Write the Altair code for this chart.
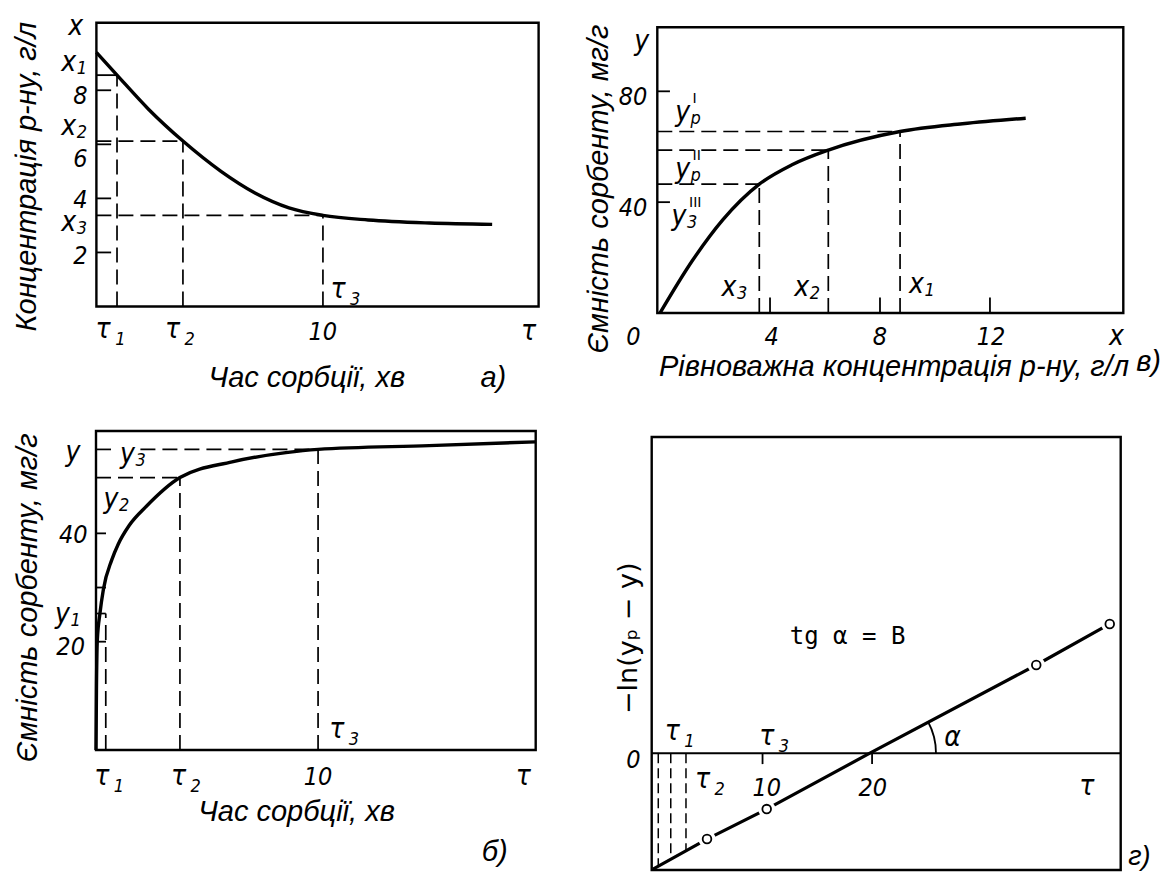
import altair as alt
import pandas as pd

SYM = "Liberation Sans Narrow, DejaVu Sans Condensed, Liberation Sans, DejaVu Sans, sans-serif"
TTL = "Liberation Sans, Arial, DejaVu Sans, sans-serif"

# ===================== DATA =====================
# --- а) concentration of solution vs sorption time ---
A_TAU = [0.0, 0.91, 2.3, 3.82, 5.5, 7.0, 8.5, 10.0, 12.0, 14.7, 17.47]
A_CONC = [9.40, 8.56, 7.30, 6.12, 5.00, 4.20, 3.65, 3.37, 3.20, 3.09, 3.04]
A_KEY_TAU = [0.91, 3.82, 10.0]
A_KEY_CONC = [8.56, 6.12, 3.37]
A_YTICKS = [2, 4, 6, 8]
A_LAB_TEXT = ["x", "x", "8", "x", "6", "4", "x", "2", "τ", "τ", "10", "τ", "τ"]
A_LAB_SUB = ["", "1", "", "2", "", "", "3", "", "1", "2", "", "", "3"]
A_LAB_X = [-0.91, -1.22, -0.71, -1.22, -0.71, -0.71, -1.22, -0.71, 0.30, 3.36, 9.99, 19.08, 10.67]
A_LAB_Y = [10.33, 9.0, 7.78, 6.65, 5.45, 3.94, 3.10, 1.87, -0.87, -0.87, -0.93, -0.93, 0.61]

# --- в) sorption isotherm ---
B_X = [0.0, 1.19, 2.28, 3.61, 4.8, 6.12, 8.73, 11.0, 13.3]
B_Y = [0.0, 19.1, 33.6, 46.5, 53.5, 58.8, 65.5, 68.3, 70.3]
B_KEY_X = [3.61, 6.12, 8.73]
B_KEY_Y = [46.5, 58.8, 65.5]
B_YTICKS = [40, 80]
B_XTICKS = [4, 8, 12]
B_LAB_TEXT = ["y", "80", "40", "y", "y", "y", "x", "x", "x", "0", "4", "8", "12", "x"]
B_LAB_SUB = ["", "", "", "p", "p", "3", "3", "2", "1", "", "", "", "", ""]
B_LAB_SUP = ["", "", "", "I", "II", "III", "", "", "", "", "", "", "", ""]
B_LAB_X = [-0.67, -0.98, -0.98, 0.82, 0.82, 0.69, 2.51, 5.15, 9.33, -0.97, 4.06, 8.0, 12.04, 16.6]
B_LAB_Y = [97.9, 78.1, 37.9, 72.1, 51.6, 34.8, 9.0, 9.0, 10.1, -8.55, -8.55, -8.55, -8.55, -8.55]

# --- б) sorbent capacity vs sorption time ---
C_TAU = [0.0, 0.02, 0.06, 0.18, 0.33, 0.71, 1.0, 1.5, 2.27, 3.78, 6.13, 8.55, 10.0, 15.0, 19.8]
C_CAP = [0.0, 11.0, 20.3, 25.3, 29.6, 35.1, 38.0, 41.5, 45.0, 50.3, 53.2, 54.9, 55.5, 56.2, 56.9]
C_KEY_TAU = [0.44, 3.78, 10.0]
C_KEY_CAP = [25.2, 50.3, 55.5]
C_YTICKS = [20, 30, 40]
C_LAB_TEXT = ["y", "y", "y", "40", "y", "20", "τ", "τ", "10", "τ", "τ"]
C_LAB_SUB = ["", "3", "2", "", "1", "", "1", "2", "", "", "3"]
C_LAB_X = [-1.04, 1.42, 0.67, -1.02, -1.51, -1.14, 0.26, 3.72, 10.0, 19.24, 10.84]
C_LAB_Y = [54.8, 54.5, 46.2, 39.7, 24.9, 19.1, -4.93, -4.93, -4.93, -4.93, 3.69]

# --- г) linearised kinetics -ln(yp - y) vs time ---
D_TAU = [0.0, 4.93, 10.38, 19.8, 34.99, 41.7]
D_LN = [-10.6, -7.85, -5.11, 0.0, 8.06, 11.81]
D_PT_TAU = [4.93, 10.38, 34.99, 41.7]
D_PT_LN = [-7.85, -5.11, 8.06, 11.81]
D_DASH_TAU = [0.48, 1.62, 3.01]
D_DASH_LOW = [-10.34, -9.71, -8.94]
D_XTICKS = [10, 20]
D_LAB_TEXT = ["0", "τ", "τ", "τ", "10", "20", "τ", "α"]
D_LAB_SUB = ["", "1", "3", "2", "", "", "", ""]
D_LAB_X = [-1.8, 1.76, 10.38, 4.52, 10.38, 20.07, 39.6, 27.35]
D_LAB_Y = [-0.61, 1.97, 1.52, -2.44, -3.2, -3.2, -3.05, 1.37]

TITLES = {
    "a": [("Час сорбції, хв", 9.29, -2.66, 0), ("а)", 17.52, -2.65, 0),
          ("Концентрація р-ну, г/л", -3.06, 4.80, 270)],
    "b": [("Рівноважна концентрація р-ну, г/л", 8.51, -19.4, 0), ("в)", 17.77, -17.6, 0),
          ("Ємність сорбенту, мг/г", -2.23, 44.7, 270)],
    "c": [("Час сорбції, хв", 9.03, -11.4, 0), ("б)", 17.95, -18.8, 0),
          ("Ємність сорбенту, мг/г", -3.04, 28.1, 270)],
    "d": [("г)", 44.4, -9.45, 0)],
}
D_FORMULA = ("tg α = B", 17.76, 10.65)
D_YTITLE = ("−ln(yₚ − y)", -2.19, 10.5)

# ===================== LAYOUT (plot boxes) =====================
LAYOUT = {
    "a": dict(xd=[0, 19.52], xr=[96.4, 538.6], yd=[0, 10.5], yr=[306.5, 22.7]),
    "b": dict(xd=[-0.1, 16.85], xr=[657.3, 1123.3], yd=[0, 103.1], yr=[313, 27.3]),
    "c": dict(xd=[0, 19.8], xr=[96, 535.7], yd=[0, 58.9], yr=[750, 431]),
    "d": dict(xd=[-0.12, 42.7], xr=[651.7, 1120.7], yd=[-10.68, 28.9], yr=[870, 437]),
}

layers = []


def enc(p, extra=None):
    e = dict(
        x=alt.X("x:Q", scale=alt.Scale(domain=p["xd"], range=p["xr"], nice=False, zero=False), axis=None),
        y=alt.Y("y:Q", scale=alt.Scale(domain=p["yd"], range=p["yr"], nice=False, zero=False), axis=None),
    )
    if extra:
        e.update(extra)
    return e


def add_frame(p):
    df = pd.DataFrame({"x": [p["xd"][0]], "x2": [p["xd"][1]], "y": [p["yd"][0]], "y2": [p["yd"][1]]})
    layers.append(alt.Chart(df).mark_rect(fillOpacity=0, stroke="black", strokeWidth=2.4)
                  .encode(**enc(p, {"x2": "x2:Q", "y2": "y2:Q"})))


def add_segments(p, x, x2, y, y2, width=1.7, dash=None):
    df = pd.DataFrame({"x": x, "x2": x2, "y": y, "y2": y2})
    kw = dict(color="black", strokeWidth=width)
    if dash:
        kw["strokeDash"] = dash
    layers.append(alt.Chart(df).mark_rule(**kw).encode(**enc(p, {"x2": "x2:Q", "y2": "y2:Q"})))


def add_curve(p, x, y, width=3.0, interp="monotone"):
    df = pd.DataFrame({"x": x, "y": y})
    layers.append(alt.Chart(df).mark_line(color="black", strokeWidth=width, interpolate=interp)
                  .encode(**enc(p)))


def add_text(p, x, y, t, size, font=SYM, style="italic", dx=0, dy=0, align="center", angle=0):
    if not t:
        return
    df = pd.DataFrame({"x": x, "y": y, "t": t})
    kw = dict(color="black", fontSize=size, font=font, fontStyle=style, align=align, baseline="middle")
    if dx:
        kw["dx"] = dx
    if dy:
        kw["dy"] = dy
    if angle:
        kw["angle"] = angle
    layers.append(alt.Chart(df).mark_text(**kw).encode(**enc(p, {"text": "t:N"})))


def add_labels(p, texts, subs, xs, ys, sups=None):
    n = len(texts)
    dig = [i for i in range(n) if texts[i].isdigit()]
    let = [i for i in range(n) if not texts[i].isdigit()]
    add_text(p, [xs[i] for i in dig], [ys[i] for i in dig], [texts[i] for i in dig], 25)
    add_text(p, [xs[i] for i in let], [ys[i] for i in let], [texts[i] for i in let], 28)
    tau = [i for i in range(n) if subs[i] and texts[i] == "τ"]
    oth = [i for i in range(n) if subs[i] and texts[i] != "τ"]
    add_text(p, [xs[i] for i in tau], [ys[i] for i in tau], [subs[i] for i in tau], 18,
             dx=12, dy=10, align="left")
    add_text(p, [xs[i] for i in oth], [ys[i] for i in oth], [subs[i] for i in oth], 18,
             dx=8, dy=6, align="left")
    if sups:
        sp = [i for i in range(n) if sups[i]]
        add_text(p, [xs[i] for i in sp], [ys[i] for i in sp], [sups[i] for i in sp], 15,
                 dx=10, dy=-15, align="left", font=TTL, style="normal")


def add_titles(p, items, size=29):
    for t, x, y, ang in items:
        add_text(p, [x], [y], [t], size, font=TTL, angle=ang)


# ---------------- panel а) ----------------
p = LAYOUT["a"]
add_frame(p)
x0 = p["xd"][0]
add_segments(p, [x0] * 4, [0.65] * 4, A_YTICKS, A_YTICKS, width=1.8)
add_segments(p, [x0], [A_KEY_TAU[0]], [A_KEY_CONC[0]], [A_KEY_CONC[0]], width=1.8)
add_segments(p, [x0] * 2, A_KEY_TAU[1:], A_KEY_CONC[1:], A_KEY_CONC[1:], dash=[15, 7])
add_segments(p, A_KEY_TAU, A_KEY_TAU, [0] * 3, A_KEY_CONC, dash=[15, 7])
add_curve(p, A_TAU, A_CONC, width=3.4)
add_labels(p, A_LAB_TEXT, A_LAB_SUB, A_LAB_X, A_LAB_Y)
add_titles(p, TITLES["a"])

# ---------------- panel в) ----------------
p = LAYOUT["b"]
add_frame(p)
x0 = p["xd"][0]
add_segments(p, [x0] * 2, [0.36] * 2, B_YTICKS, B_YTICKS, width=1.8)
add_segments(p, B_XTICKS, B_XTICKS, [0] * 3, [5.6] * 3, width=1.8)
add_segments(p, [x0] * 3, B_KEY_X, B_KEY_Y, B_KEY_Y, dash=[15, 7])
add_segments(p, B_KEY_X, B_KEY_X, [0] * 3, B_KEY_Y, dash=[15, 7])
add_curve(p, B_X, B_Y, width=3.4)
add_labels(p, B_LAB_TEXT, B_LAB_SUB, B_LAB_X, B_LAB_Y, B_LAB_SUP)
add_titles(p, TITLES["b"])

# ---------------- panel б) ----------------
p = LAYOUT["c"]
add_frame(p)
x0 = p["xd"][0]
add_segments(p, [x0] * 3, [0.45] * 3, C_YTICKS, C_YTICKS, width=1.8)
add_segments(p, [x0, 2.0], [0.8, C_KEY_TAU[2]], [C_KEY_CAP[2]] * 2, [C_KEY_CAP[2]] * 2, dash=[15, 7])
add_segments(p, [x0] * 2, C_KEY_TAU[:2], C_KEY_CAP[:2], C_KEY_CAP[:2], dash=[15, 7])
add_segments(p, C_KEY_TAU, C_KEY_TAU, [0] * 3, C_KEY_CAP, dash=[15, 7])
add_curve(p, C_TAU, C_CAP, width=3.4)
add_labels(p, C_LAB_TEXT, C_LAB_SUB, C_LAB_X, C_LAB_Y)
add_titles(p, TITLES["c"])

# ---------------- panel г) ----------------
p = LAYOUT["d"]
add_frame(p)
add_segments(p, [p["xd"][0]], [p["xd"][1]], [0], [0], width=2.0)
add_segments(p, D_XTICKS, D_XTICKS, [0] * 2, [-1.0] * 2, width=1.8)
add_segments(p, D_DASH_TAU, D_DASH_TAU, [0] * 3, D_DASH_LOW, dash=[10, 5], width=1.5)
add_curve(p, D_TAU, D_LN, width=3.2, interp="linear")
pts = pd.DataFrame({"x": D_PT_TAU, "y": D_PT_LN})
layers.append(alt.Chart(pts).mark_circle(color="white", size=300, opacity=1).encode(**enc(p)))
layers.append(alt.Chart(pts).mark_point(shape="circle", filled=False, color="black", size=75,
                                        strokeWidth=1.8, opacity=1).encode(**enc(p)))
vertex = pd.DataFrame({"x": [D_TAU[3]], "y": [D_LN[3]]})
layers.append(alt.Chart(vertex).mark_arc(radius=67, radius2=65.2, theta=1.072, theta2=1.5708,
                                         color="black").encode(**enc(p)))
add_labels(p, D_LAB_TEXT, D_LAB_SUB, D_LAB_X, D_LAB_Y)
add_text(p, [D_FORMULA[1]], [D_FORMULA[2]], [D_FORMULA[0]], 24, font="DejaVu Sans Mono", style="normal")
add_text(p, [D_YTITLE[1]], [D_YTITLE[2]], [D_YTITLE[0]], 27, font="DejaVu Sans", style="normal", angle=270)
add_titles(p, TITLES["d"], size=27)

chart = (
    alt.layer(*layers)
    .resolve_scale(x="independent", y="independent")
    .properties(width=1169, height=874, padding=0, autosize=alt.AutoSizeParams(type="none"),
                background="white")
    .configure_view(strokeWidth=0)
)

chart.save("out.html", embed_options={"renderer": "svg", "actions": False})
